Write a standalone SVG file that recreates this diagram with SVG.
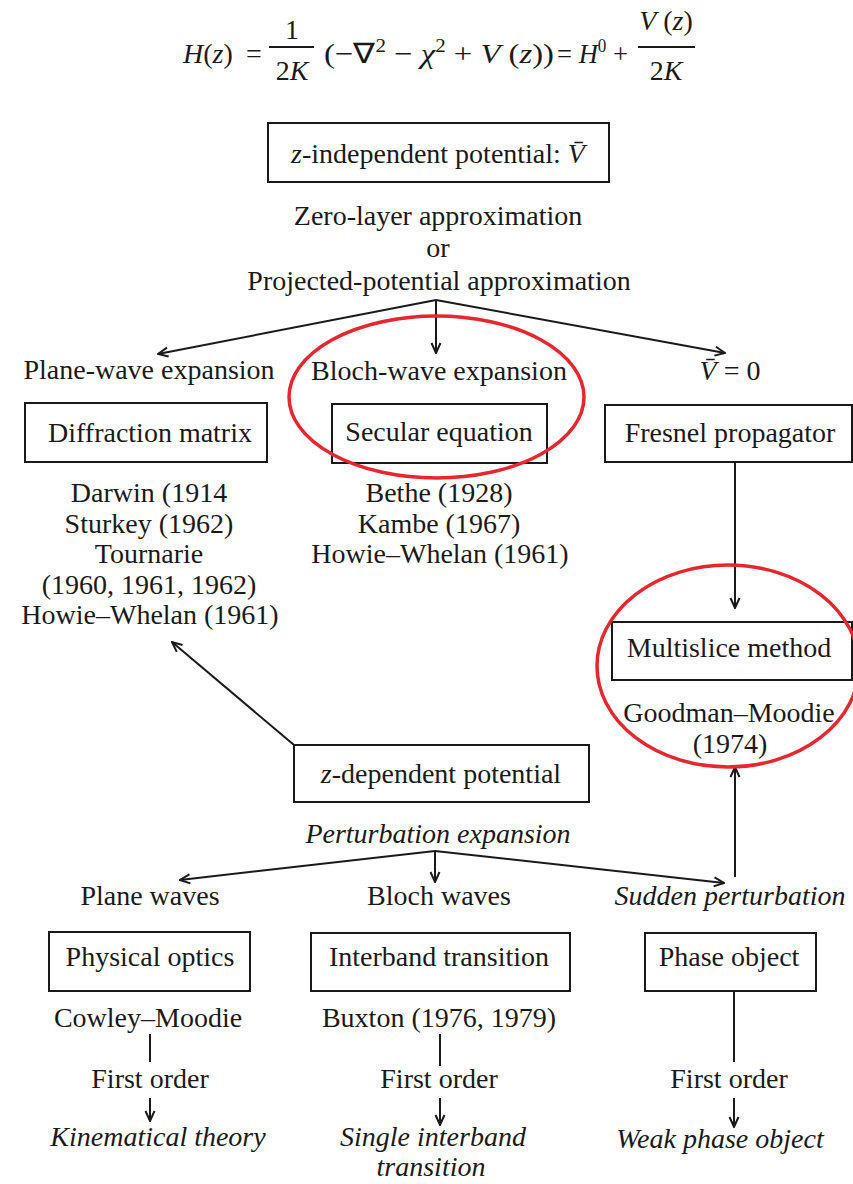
<svg xmlns="http://www.w3.org/2000/svg" width="853" height="1184" viewBox="0 0 853 1184">
<style>
text{font-family:"Liberation Serif","Times New Roman",serif;font-size:28px;fill:#1a1a1a;text-anchor:middle}
.i{font-style:italic}
.l{text-anchor:start}
.box{fill:#fff;stroke:#1a1a1a;stroke-width:2}
.ln{fill:none;stroke:#1a1a1a;stroke-width:2}
.red{fill:none;stroke:#e8262d;stroke-width:3.5}
</style>
<defs>
<marker id="ah" viewBox="0 0 12 12" refX="11" refY="6" markerWidth="12" markerHeight="12" markerUnits="userSpaceOnUse" orient="auto">
<path d="M1,1.5 L11,6 L1,10.5" fill="none" stroke="#1a1a1a" stroke-width="2"/>
</marker>
</defs>
<rect width="853" height="1184" fill="#fff"/>

<g id="equation">
<text class="l" x="183" y="63"><tspan class="i">H</tspan>(<tspan class="i">z</tspan>)</text>
<text x="254" y="63">=</text>
<text x="292" y="39">1</text>
<line class="ln" x1="269" y1="47" x2="314" y2="47" stroke-width="1.5"/>
<text x="292" y="80">2<tspan class="i">K</tspan></text>
<text class="l" x="324" y="63" textLength="230" lengthAdjust="spacingAndGlyphs">(−∇<tspan dy="-11" font-size="18">2</tspan><tspan dy="11"> − </tspan><tspan class="i">χ</tspan><tspan dy="-11" font-size="18">2</tspan><tspan dy="11"> + </tspan><tspan class="i">V</tspan> (<tspan class="i">z</tspan>))</text>
<text class="l" x="557" y="63" textLength="71" lengthAdjust="spacingAndGlyphs">= <tspan class="i">H</tspan><tspan dy="-11" font-size="18">0</tspan><tspan dy="11"> +</tspan></text>
<text x="666" y="30"><tspan class="i">V</tspan> (<tspan class="i">z</tspan>)</text>
<line class="ln" x1="638" y1="47" x2="695" y2="47" stroke-width="1.5"/>
<text x="666" y="80">2<tspan class="i">K</tspan></text>
</g>

<g id="z-independent">
<rect class="box" x="268" y="123" width="341" height="59"/>
<text x="438" y="163"><tspan class="i">z</tspan>-independent potential: <tspan class="i">V̄</tspan></text>
</g>

<g id="approximation">
<text x="438" y="225">Zero-layer approximation</text>
<text x="438" y="257">or</text>
<text x="439" y="290">Projected-potential approximation</text>
</g>

<g id="plane-wave">
<text x="149" y="379">Plane-wave expansion</text>
<rect class="box" x="25" y="403" width="242" height="59"/>
<text x="150" y="442">Diffraction matrix</text>
<text x="149" y="502">Darwin (1914</text>
<text x="149" y="533">Sturkey (1962)</text>
<text x="149" y="563">Tournarie</text>
<text x="149" y="594">(1960, 1961, 1962)</text>
<text x="150" y="624">Howie–Whelan (1961)</text>
</g>

<g id="bloch-wave">
<text x="439" y="380">Bloch-wave expansion</text>
<rect class="box" x="332" y="404" width="215" height="59"/>
<text x="439" y="441">Secular equation</text>
<text x="439" y="502">Bethe (1928)</text>
<text x="439" y="533">Kambe (1967)</text>
<text x="440" y="563">Howie–Whelan (1961)</text>
</g>

<g id="fresnel">
<text x="730" y="380"><tspan class="i">V̄</tspan> = 0</text>
<rect class="box" x="605" y="405" width="247" height="57"/>
<text x="730" y="442">Fresnel propagator</text>
</g>

<g id="multislice">
<rect class="box" x="612" y="622" width="240" height="58"/>
<text x="729" y="657">Multislice method</text>
<text x="729" y="722">Goodman–Moodie</text>
<text x="730" y="753">(1974)</text>
</g>

<g id="z-dependent">
<rect class="box" x="294" y="745" width="295" height="57"/>
<text x="441" y="783"><tspan class="i">z</tspan>-dependent potential</text>
<text class="i" x="438" y="843">Perturbation expansion</text>
</g>

<g id="plane-waves">
<text x="150" y="905">Plane waves</text>
<rect class="box" x="49" y="932" width="201" height="59"/>
<text x="150" y="966">Physical optics</text>
<text x="148" y="1027">Cowley–Moodie</text>
<text x="150" y="1088">First order</text>
<text class="i" x="158" y="1146">Kinematical theory</text>
</g>

<g id="bloch-waves">
<text x="439" y="905">Bloch waves</text>
<rect class="box" x="311" y="933" width="259" height="58"/>
<text x="439" y="966">Interband transition</text>
<text x="439" y="1027">Buxton (1976, 1979)</text>
<text x="439" y="1088">First order</text>
<text class="i" x="433" y="1146">Single interband</text>
<text class="i" x="431" y="1176">transition</text>
</g>

<g id="sudden">
<text class="i" x="730" y="905">Sudden perturbation</text>
<rect class="box" x="645" y="933" width="171" height="58"/>
<text x="729" y="966">Phase object</text>
<text x="729" y="1088">First order</text>
<text class="i" x="720" y="1148">Weak phase object</text>
</g>

<g id="connectors">
<line class="ln" x1="436" y1="300" x2="158" y2="354" marker-end="url(#ah)"/>
<line class="ln" x1="436" y1="300" x2="436" y2="353" marker-end="url(#ah)"/>
<line class="ln" x1="436" y1="300" x2="725" y2="353" marker-end="url(#ah)"/>
<line class="ln" x1="735" y1="462" x2="735" y2="608" marker-end="url(#ah)"/>
<line class="ln" x1="294" y1="745" x2="172" y2="642" marker-end="url(#ah)"/>
<line class="ln" x1="735" y1="877" x2="735" y2="767" marker-end="url(#ah)"/>
<line class="ln" x1="435" y1="851" x2="180" y2="880" marker-end="url(#ah)"/>
<line class="ln" x1="435" y1="851" x2="435" y2="882" marker-end="url(#ah)"/>
<line class="ln" x1="435" y1="851" x2="724" y2="883" marker-end="url(#ah)"/>
<line class="ln" x1="150" y1="1034" x2="150" y2="1062"/>
<line class="ln" x1="440" y1="1034" x2="440" y2="1066"/>
<line class="ln" x1="734" y1="991" x2="734" y2="1062"/>
<line class="ln" x1="150" y1="1098" x2="150" y2="1121" marker-end="url(#ah)"/>
<line class="ln" x1="440" y1="1098" x2="440" y2="1125" marker-end="url(#ah)"/>
<line class="ln" x1="734" y1="1098" x2="734" y2="1127" marker-end="url(#ah)"/>
</g>

<g id="highlights">
<ellipse class="red" cx="436.5" cy="397" rx="147.5" ry="81"/>
<ellipse class="red" cx="728" cy="666" rx="131" ry="101"/>
</g>
</svg>
